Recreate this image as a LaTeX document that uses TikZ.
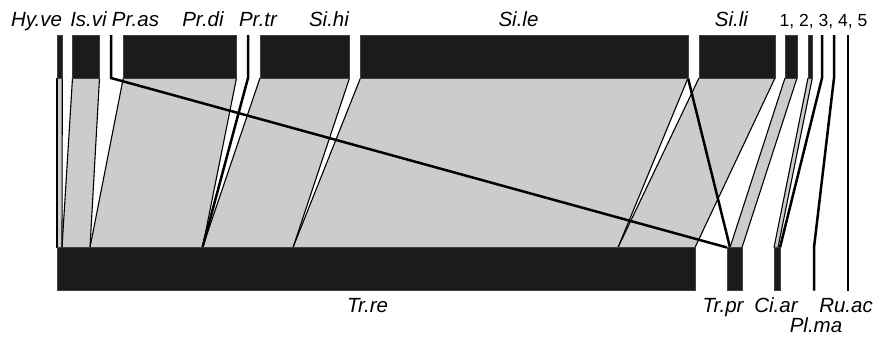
\documentclass[tikz,border=0pt]{standalone}
\usepackage{fontspec}
\setmainfont{Liberation Sans}
\definecolor{blkc}{HTML}{1B1B1B}
\definecolor{ribc}{HTML}{CCCCCC}
\begin{document}
\begin{tikzpicture}[x=1pt,y=-1pt,
  blockbox/.style={draw=black!75, fill=blkc, line width=0.9pt, inner sep=0pt, outer sep=0pt, rectangle, minimum height=43pt, anchor=north west},
  ribfill/.style={fill=ribc},
  ribedge/.style={draw=black, line width=1.1pt},
  thickln/.style={draw=black, line width=2.5pt},
  lab/.style={font=\fontsize{20.5}{22}\selectfont\itshape, anchor=base, inner sep=0pt},
  numlab/.style={font=\fontsize{17.5}{19}\selectfont, anchor=base, inner sep=0pt},
]
\useasboundingbox (0,0) rectangle (878,340);

% top blocks
\node[blockbox, minimum width=5.3pt]   (hyve) at (57,35) {};
\node[blockbox, minimum width=27pt]    (isvi) at (72.5,35) {};
\node[blockbox, minimum width=113.2pt] (prdi) at (123.3,35) {};
\node[blockbox, minimum width=89.5pt]  (sihi) at (260,35) {};
\node[blockbox, minimum width=327.5pt] (sile) at (360.5,35) {};
\node[blockbox, minimum width=76pt]    (sili) at (699,35) {};
\node[blockbox, minimum width=12pt]    (bkone) at (785,35) {};
\node[blockbox, minimum width=4.3pt]   (bktwo) at (808,35) {};
% zero width top segments
\coordinate (pras-t) at (111,35);  \coordinate (pras-b) at (111,78);
\coordinate (prtr-t) at (248,35);  \coordinate (prtr-b) at (248,78);
\coordinate (lthree-t) at (822,35); \coordinate (lthree-b) at (822,78);
\coordinate (lfour-t) at (834,35);  \coordinate (lfour-b) at (834,78);
\coordinate (lfive-t) at (848,35);  \coordinate (lfive-b) at (848,78);

% bottom blocks
\node[blockbox, minimum width=638pt] (trre) at (57,247.5) {};
\node[blockbox, minimum width=15pt]  (trpr) at (727,247.5) {};
\node[blockbox, minimum width=6pt]   (ciar) at (774,247.5) {};
\coordinate (plma-t) at (814,247.5); \coordinate (plma-b) at (814,290.5);
\coordinate (ruac-t) at (848,247.5); \coordinate (ruac-b) at (848,290.5);

% ribbon end points on bottom
\coordinate (b62) at (62,247.5);
\coordinate (b90) at (90,247.5);
\coordinate (b202) at (202.5,247.5);
\coordinate (b293) at (293,247.5);
\coordinate (b618) at (618,247.5);
\coordinate (b730) at (730,247.5);
\coordinate (b778) at (778,247.5);

% ribbon fills
\fill[ribfill] (hyve.south west) -- (hyve.south east) -- (b62) -- (trre.north west) -- cycle;
\fill[ribfill] (isvi.south west) -- (isvi.south east) -- (b90) -- (b62) -- cycle;
\fill[ribfill] (prdi.south west) -- (prdi.south east) -- (b202) -- (b90) -- cycle;
\fill[ribfill] (sihi.south west) -- (sihi.south east) -- (b293) -- (b202) -- cycle;
\fill[ribfill] (sile.south west) -- (sile.south east) -- (b618) -- (b293) -- cycle;
\fill[ribfill] (sili.south west) -- (sili.south east) -- (trre.north east) -- (b618) -- cycle;
\fill[ribfill] (bkone.south west) -- (bkone.south east) -- (trpr.north east) -- (b730) -- cycle;
\fill[ribfill] (bktwo.south west) -- (bktwo.south east) -- (b778) -- (ciar.north west) -- cycle;

% ribbon edges
\draw[ribedge] (hyve.south west) -- (trre.north west);
\draw[ribedge] (hyve.south east) -- (b62);
\draw[ribedge] (isvi.south west) -- (b62);
\draw[ribedge] (isvi.south east) -- (b90);
\draw[ribedge] (prdi.south west) -- (b90);
\draw[ribedge] (prdi.south east) -- (b202);
\draw[ribedge] (sihi.south west) -- (b202);
\draw[ribedge] (sihi.south east) -- (b293);
\draw[ribedge] (sile.south west) -- (b293);
\draw[ribedge] (sile.south east) -- (b618);
\draw[ribedge] (sili.south west) -- (b618);
\draw[ribedge] (sili.south east) -- (trre.north east);
\draw[ribedge] (bkone.south west) -- (b730);
\draw[ribedge] (bkone.south east) -- (trpr.north east);
\draw[ribedge] (bktwo.south west) -- (ciar.north west);
\draw[ribedge] (bktwo.south east) -- (b778);

% thick single links
\draw[thickln] (pras-t) -- (pras-b) -- (trpr.north west);
\draw[thickln] (prtr-t) -- (prtr-b) -- (b202);
\draw[thickln] (sile.south east) -- (b730);
\draw[thickln] (lthree-t) -- (lthree-b) -- (ciar.north east);
\draw[thickln] (lfour-t) -- (lfour-b) -- (plma-t) -- (plma-b);
\draw[thickln] (lfive-t) -- (lfive-b) -- (ruac-t) -- (ruac-b);

% redraw blocks on top
\foreach \n in {hyve,isvi,prdi,sihi,sile,sili,bkone,bktwo,trre,trpr,ciar}{
  \draw[draw=black!75, fill=blkc, line width=0.9pt] (\n.north west) rectangle (\n.south east);
}

% labels
\node[lab] (l-hyve) at (36.5,26) {Hy.ve};
\node[lab] (l-isvi) at (88.5,26) {Is.vi};
\node[lab] (l-pras) at (135.5,26) {Pr.as};
\node[lab] (l-prdi) at (203,26) {Pr.di};
\node[lab] (l-prtr) at (258,26) {Pr.tr};
\node[lab] (l-sihi) at (329,26) {Si.hi};
\node[lab] (l-sile) at (518.5,26) {Si.le};
\node[lab] (l-sili) at (731.5,26) {Si.li};
\node[numlab] (l-nums) at (823.5,26) {1, 2, 3, 4, 5};
\node[lab] (l-trre) at (367.5,312) {Tr.re};
\node[lab] (l-trpr) at (723,312) {Tr.pr};
\node[lab] (l-ciar) at (776,312) {Ci.ar};
\node[lab] (l-plma) at (816,332) {Pl.ma};
\node[lab, anchor=base east] (l-ruac) at (873,312) {Ru.ac};
\end{tikzpicture}
\end{document}
